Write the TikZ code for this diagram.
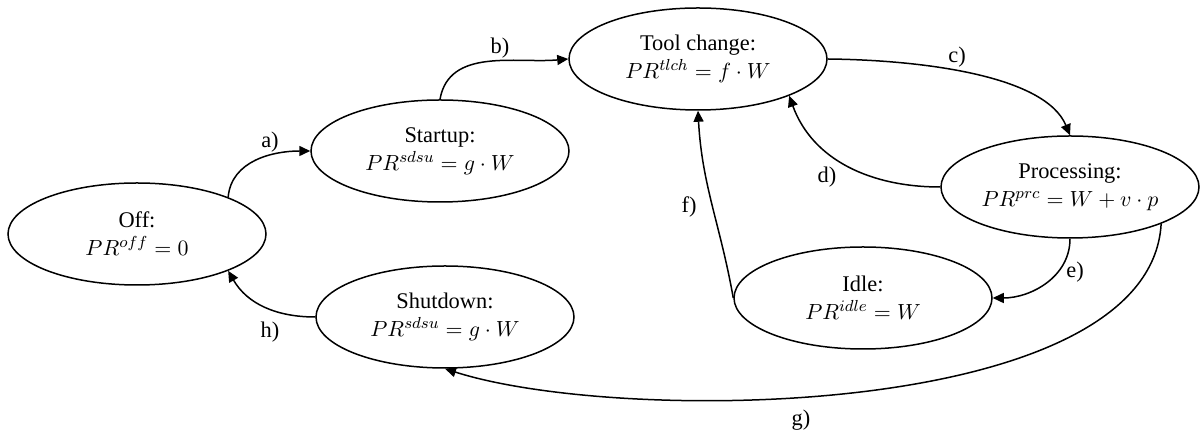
\documentclass[tikz,border=0pt]{standalone}
\usepackage{fontspec}
\setmainfont{Liberation Serif}
\usetikzlibrary{shapes.geometric,arrows.meta}
\begin{document}
\begin{tikzpicture}[x=0.5pt,y=0.5pt,
  state/.style={draw, ellipse, line width=0.75pt, minimum width=129pt, minimum height=51pt, inner sep=0pt, align=center, font=\fontsize{11.2}{14}\selectfont, execute at begin node={\rule{0pt}{11.6pt}}},
  conn/.style={line width=0.75pt, -{Triangle[length=5.5pt,width=5pt]}},
  lbl/.style={font=\fontsize{11.2}{14}\selectfont, inner sep=0pt}]
\fill[white] (0,0) rectangle (1200,433);
\useasboundingbox (0,0) rectangle (1200,433);
\node[state] (off) at (137,199) {Off:\\$PR^{off}=0$};
\node[state] (startup) at (440,282) {Startup:\\$PR^{sdsu}=g\cdot W$};
\node[state] (shut) at (445,116) {Shutdown:\\$PR^{sdsu}=g\cdot W$};
\node[state] (tool) at (698,374) {Tool change:\\$PR^{tlch}=f\cdot W$};
\node[state] (proc) at (1070,246) {Processing:\\$PR^{prc}=W+v\cdot p$};
\node[state] (idle) at (863,135) {Idle:\\$PR^{idle}=W$};
\draw[conn] (off.22) to[out=85,in=180] (startup.west);
\draw[conn] (startup.north) to[out=80,in=185] (tool.west);
\draw[conn] (tool.east) .. controls (920,373) and (1045,358) .. (proc.north);
\draw[conn] (proc.west) to[out=180,in=-70] (tool.-22);
\draw[conn] (proc.south) to[out=-90,in=0] (idle.east);
\draw[conn] (idle.west) to[out=100,in=-87] (tool.south);
\draw[conn] (proc.-22) .. controls (1150,13) and (620,8) .. (shut.south);
\draw[conn] (shut.west) to[out=180,in=-60] (off.-22);
\node[lbl] (la) at (270,291) {a)};
\node[lbl] (lb) at (500,385) {b)};
\node[lbl] (lc) at (957,376) {c)};
\node[lbl] (ld) at (827,256) {d)};
\node[lbl] (le) at (1075,161) {e)};
\node[lbl] (lf) at (689,226) {f)};
\node[lbl] (lg) at (801,13) {g)};
\node[lbl] (lh) at (270,101) {h)};
\end{tikzpicture}
\end{document}
